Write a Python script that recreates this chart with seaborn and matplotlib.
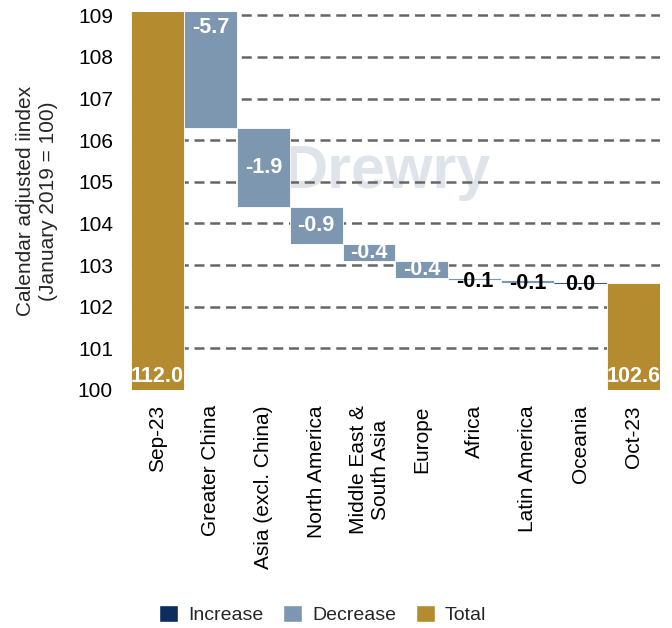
import numpy as np
import matplotlib
matplotlib.use("Agg")
import matplotlib.pyplot as plt
import seaborn as sns
from matplotlib.patches import Patch

# data
categories = ["Sep-23", "Greater China", "Asia (excl. China)", "North America",
              "Middle East &\nSouth Asia", "Europe", "Africa", "Latin America",
              "Oceania", "Oct-23"]
start_value = 112.0
changes = [-5.7, -1.9, -0.9, -0.4, -0.4, -0.07, -0.05, -0.01]
y_ticks = [100, 101, 102, 103, 104, 105, 106, 107, 108, 109]

c_inc = "#0c2d5e"
c_dec = "#7d97b0"
c_tot = "#b58b2f"

sns.set_theme(style="white")
plt.rcParams["font.family"] = ["Liberation Sans", "DejaVu Sans"]

# build waterfall geometry from the values
end_value = start_value + sum(changes)
bottoms, heights, kinds, labels = [0.0], [start_value], ["total"], [f"{start_value:.1f}"]
level = start_value
for ch in changes:
    new = level + ch
    bottoms.append(min(level, new))
    heights.append(abs(ch))
    kinds.append("inc" if ch > 0 else "dec")
    lab = f"{ch:.1f}"
    if lab == "-0.0":
        lab = "0.0"
    labels.append(lab)
    level = new
bottoms.append(0.0)
heights.append(end_value)
kinds.append("total")
labels.append(f"{end_value:.1f}")

colors = {"inc": c_inc, "dec": c_dec, "total": c_tot}

fig = plt.figure(figsize=(6.72, 6.28), dpi=100)
ax = fig.add_axes([0.195, 0.379, 0.787, 0.602])

ymin, ymax = 100, 109.08

sns.barplot(x=categories, y=heights, width=1.0, ax=ax, color=c_dec,
            edgecolor="white", linewidth=0.6, zorder=2)
for p, b, k in zip(ax.patches, bottoms, kinds):
    p.set_y(b)
    p.set_facecolor(colors[k])

# thin line for the near-zero bar
oc = categories.index("Oceania")
ax.patches[oc].set_edgecolor("#3a5878")
ax.patches[oc].set_linewidth(0.8)

for yv in y_ticks[1:]:
    ax.axhline(yv, color="#666666", linewidth=1.8, linestyle=(0, (4, 2.3)), zorder=1)

# watermark
ax.text(0.485, 0.575, "Drewry", transform=ax.transAxes, fontsize=44,
        fontweight="bold", color="#dfe4eb", ha="center", va="center", zorder=0)

for i, (b, h, k, lab) in enumerate(zip(bottoms, heights, kinds, labels)):
    if k == "total":
        ax.text(i, ymin + 0.07, lab, ha="center", va="bottom", color="white",
                fontsize=15.5, fontweight="bold", zorder=3)
    elif h >= 0.3:
        yc = min(b + h / 2, ymax - 0.38)
        ax.text(i, yc, lab, ha="center", va="center", color="white",
                fontsize=15.5, fontweight="bold", zorder=3)
    else:
        ax.text(i, b - 0.03, lab, ha="center", va="center", color="black",
                fontsize=15.5, fontweight="bold", zorder=3)

ax.set_ylim(ymin, ymax)
ax.set_xlim(-0.5, len(categories) - 0.5)
ax.set_yticks(y_ticks)
ax.set_yticklabels([str(t) for t in y_ticks], fontsize=15)
ax.set_xticks(range(len(categories)))
ax.set_xticklabels(categories, rotation=90, fontsize=15, va="top", ha="center")
ax.tick_params(axis="both", length=0, colors="black")
ax.tick_params(axis="y", pad=13)
ax.tick_params(axis="x", pad=11)
sns.despine(ax=ax, left=True, bottom=True)
ax.set_ylabel("Calendar adjusted iindex\n(January 2019 = 100)", fontsize=15,
              linespacing=1.3, labelpad=14)

handles = [Patch(facecolor=c_inc, label="Increase"),
           Patch(facecolor=c_dec, label="Decrease"),
           Patch(facecolor=c_tot, label="Total")]
fig.legend(handles=handles, loc="center", bbox_to_anchor=(0.48, 0.022), ncol=3,
           frameon=False, fontsize=14, handlelength=1.0, handleheight=1.0,
           handletextpad=0.5, columnspacing=1.0)

fig.savefig("out.png", dpi=100)
